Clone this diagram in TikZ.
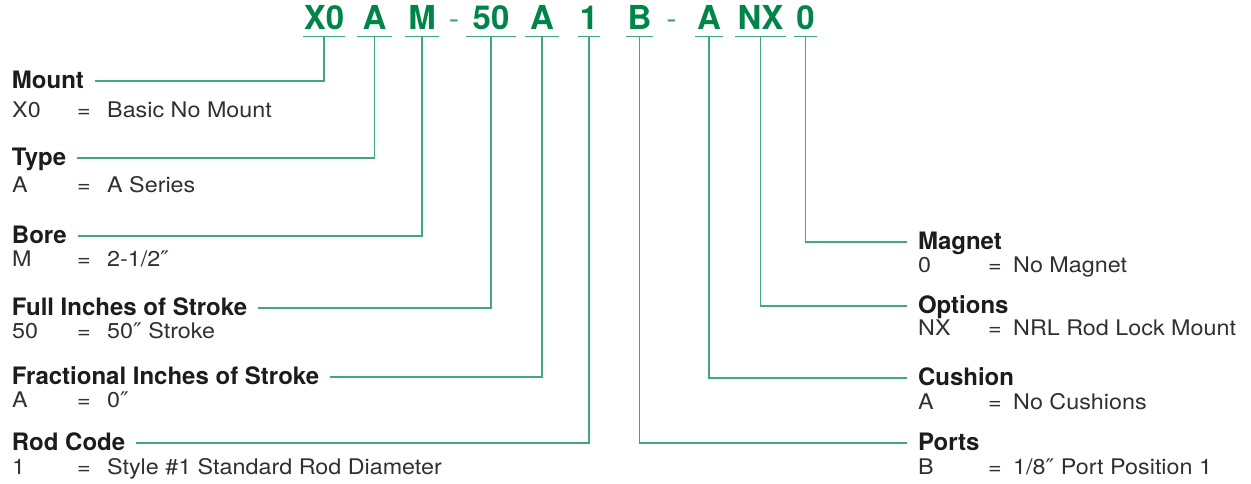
\documentclass[tikz,border=0pt]{standalone}
\usepackage{fontspec}
\setmainfont{TeX Gyre Heros}
\newfontfamily\widefont[FakeStretch=1.085]{TeX Gyre Heros}
\newfontfamily\primefont[FakeStretch=1.085]{DejaVu Sans}
\usetikzlibrary{positioning}
\definecolor{codegreen}{RGB}{0,133,72}
\definecolor{linegreen}{RGB}{64,168,122}
\definecolor{titleblack}{RGB}{28,28,28}
\definecolor{valuegrey}{RGB}{48,48,48}
\tikzset{%
  code/.style     = {font=\fontsize{33}{33}\selectfont\bfseries, text=codegreen,
    anchor=base, inner xsep=0pt, inner ysep=7pt}, % Code part
  hyphen/.style   = {font=\fontsize{31}{31}\selectfont, text=linegreen,
    anchor=base, inner sep=0pt}, % Separator
  link/.style     = {draw=linegreen, line width=1.4pt}, % Leader line
  title/.style    = {font=\fontsize{24}{24}\selectfont\bfseries, text=titleblack,
    inner sep=0pt, outer xsep=11pt, anchor=base west}, % Field name
  value/.style    = {font=\widefont\fontsize{21.5}{21.5}\selectfont, text=valuegrey,
    inner sep=0pt, anchor=base west} % Field value
}
\newcommand{\inch}{{\primefont ″}}
\newcommand{\lefte}[2]{\makebox[65pt][l]{#1}\makebox[30pt][l]{=}#2}
\newcommand{\righte}[2]{\makebox[70pt][l]{#1}\makebox[25pt][l]{=}#2}

\begin{document}
\begin{tikzpicture}[x=1pt, y=-1pt]
\useasboundingbox (0,0) rectangle (1251,483);
\draw
	% Drawing the parts of the model code :
	node at (324,29)   [code, minimum width=42pt] (cMount) {X0}
	node at (374.5,29) [code, minimum width=35pt] (cType) {A}
	node at (422,29)   [code, minimum width=34pt] (cBore) {M}
	node at (454,29)   [hyphen] (sep1) {-}
	node at (491,29)   [code, minimum width=50pt] (cFull) {50}
	node at (542,29)   [code, minimum width=34pt] (cFrac) {A}
	node at (589,29)   [code, minimum width=22pt] (cRod) {1}
	node at (639.5,29) [code, minimum width=27pt] (cPorts) {B}
	node at (671.5,29) [hyphen] (sep2) {-}
	node at (709,29)   [code, minimum width=28pt] (cCushion) {A}
	node at (760.5,29) [code, minimum width=51pt] (cOptions) {NX}
	node at (805.5,29) [code, minimum width=23pt] (cMagnet) {0}
;
	% Underlining every part
	\foreach \part in {cMount,cType,cBore,cFull,cFrac,cRod,cPorts,cCushion,cOptions,cMagnet}
		\draw[link] (\part.south west) -- (\part.south east);
	% Left legend
\draw
	node at (1,88)   [title] (tMount) {Mount}
	node at (12,117) [value] (vMount) {\lefte{X0}{Basic No Mount}}
	node at (1,165)  [title] (tType) {Type}
	node at (12,192) [value] (vType) {\lefte{A}{A Series}}
	node at (1,243)  [title] (tBore) {Bore}
	node at (12,266) [value] (vBore) {\lefte{M}{2-1/2\inch}}
	node at (1,315)  [title] (tFull) {Full Inches of Stroke}
	node at (12,338) [value] (vFull) {\lefte{50}{50\inch{} Stroke}}
	node at (1,384)  [title] (tFrac) {Fractional Inches of Stroke}
	node at (12,407) [value] (vFrac) {\lefte{A}{0\inch}}
	node at (1,450)  [title] (tRod) {Rod Code}
	node at (12,474) [value] (vRod) {\lefte{1}{Style \#1 Standard Rod Diameter}}
;
	% Right legend
\draw
	node at (907,249)  [title] (tMagnet) {Magnet}
	node at (918,272)  [value] (vMagnet) {\righte{0}{No Magnet}}
	node at (907,313)  [title] (tOptions) {Options}
	node at (918,335)  [value] (vOptions) {\righte{NX}{NRL Rod Lock Mount}}
	node at (907,385)  [title] (tCushion) {Cushion}
	node at (918,409)  [value] (vCushion) {\righte{A}{No Cushions}}
	node at (907,450)  [title] (tPorts) {Ports}
	node at (918,474)  [value] (vPorts) {\righte{B}{1/8\inch{} Port Position 1}}
;
	% Joining code parts to the legend
	\draw[link] (cMount.south) |- ([yshift=7pt]tMount.base east);
	\draw[link] (cType.south) |- ([yshift=7pt]tType.base east);
	\draw[link] (cBore.south) |- ([yshift=7pt]tBore.base east);
	\draw[link] (cFull.south) |- ([yshift=7pt]tFull.base east);
	\draw[link] (cFrac.south) |- ([yshift=7pt]tFrac.base east);
	\draw[link] (cRod.south) |- ([yshift=7pt]tRod.base east);
	\draw[link] (cPorts.south) |- ([yshift=7pt]tPorts.base west);
	\draw[link] (cCushion.south) |- ([yshift=7pt]tCushion.base west);
	\draw[link] (cOptions.south) |- ([yshift=7pt]tOptions.base west);
	\draw[link] (cMagnet.south) |- ([yshift=7pt]tMagnet.base west);
\end{tikzpicture}
\end{document}
